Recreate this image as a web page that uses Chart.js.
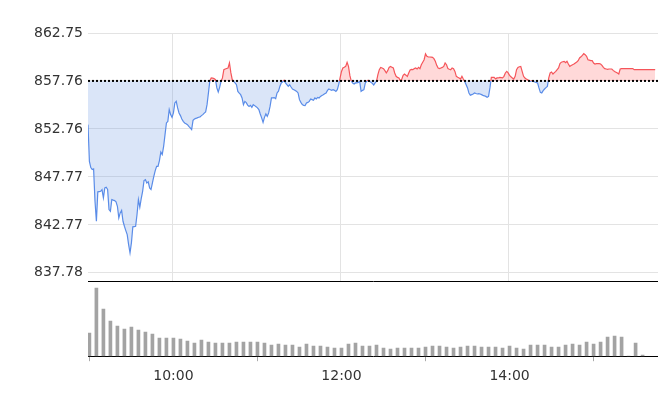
<!DOCTYPE html>
<html>
<head>
<meta charset="utf-8">
<script src="https://cdn.jsdelivr.net/npm/chart.js@4"></script>
<style>
  body { margin: 0; background: #fff; }
  #wrap { position: relative; width: 658px; height: 408px; }
  #top { position: absolute; left: 0; top: 0; width: 658px; height: 282px; }
  #bot { position: absolute; left: 0; top: 282px; width: 658px; height: 126px; }
</style>
</head>
<body>
<div id="wrap">
  <div id="top"><canvas id="grafPrecio"></canvas></div>
  <div id="bot"><canvas id="grafVolumen"></canvas></div>
</div>
<script>
// previous close, drawn as the dotted line
var cierreAnterior = 857.76;

// price axis ticks
var ticksPrecio = [837.78, 842.77, 847.77, 852.76, 857.76, 862.75];

// time axis: minutes from 9:00 and their labels
var ticksHora = [60, 180, 300];
var etiquetasHora = ['10:00', '12:00', '14:00'];

// one price per minute, starting at 9:00
var precios = [
  853.21, 849.39, 848.74, 848.53, 848.60, 845.23, 843.15, 846.21, 846.24, 846.27,
  846.45, 845.58, 846.62, 846.69, 846.45, 844.37, 844.19, 845.41, 845.35, 845.30,
  845.17, 844.71, 843.50, 844.02, 844.29, 843.15, 842.63, 842.18, 841.76, 840.72,
  839.86, 840.90, 842.57, 842.60, 842.63, 843.85, 845.41, 844.61, 845.51, 846.27,
  847.38, 847.49, 847.14, 847.25, 846.62, 846.45, 847.14, 847.83, 848.42, 848.87,
  848.87, 849.46, 850.35, 850.09, 850.95, 852.17, 853.39, 853.55, 854.77, 854.25,
  853.97, 854.43, 855.47, 855.63, 854.95, 854.43, 854.15, 853.80, 853.55, 853.39,
  853.31, 853.21, 853.03, 852.87, 852.69, 853.66, 853.80, 853.86, 853.91, 853.98,
  854.01, 854.15, 854.25, 854.41, 854.53, 855.29, 856.51, 857.79, 858.07, 858.05,
  858.00, 857.89, 857.03, 856.61, 857.09, 857.72, 858.07, 858.93, 859.00, 859.06,
  859.11, 859.63, 858.62, 857.89, 857.71, 857.55, 857.37, 856.67, 856.49, 856.33,
  855.99, 855.29, 855.63, 855.50, 855.24, 855.11, 855.22, 855.01, 855.29, 855.19,
  855.08, 854.95, 854.77, 854.32, 853.91, 853.45, 853.97, 854.32, 854.07, 854.43,
  855.11, 855.99, 855.99, 856.02, 855.91, 856.51, 856.70, 857.19, 857.55, 857.68,
  857.82, 857.55, 857.37, 857.19, 857.37, 857.13, 856.92, 856.85, 856.76, 856.67,
  856.51, 855.81, 855.53, 855.29, 855.22, 855.19, 855.47, 855.53, 855.63, 855.88,
  855.81, 855.74, 855.99, 855.88, 856.05, 855.99, 856.15, 856.25, 856.33, 856.43,
  856.51, 856.78, 856.92, 856.85, 856.78, 856.85, 856.78, 856.67, 856.85, 857.37,
  858.07, 858.75, 859.11, 859.19, 859.28, 859.69, 859.28, 858.31, 857.74, 857.53,
  857.44, 857.55, 857.55, 857.61, 857.72, 856.67, 856.78, 856.85, 857.55, 857.72,
  857.82, 857.72, 857.63, 857.50, 857.34, 857.55, 857.72, 858.41, 858.93, 859.17,
  859.11, 859.04, 858.83, 858.59, 858.83, 859.17, 859.27, 859.19, 859.11, 858.59,
  858.24, 858.13, 858.07, 857.79, 857.92, 858.34, 858.48, 858.36, 858.23, 858.59,
  858.90, 858.96, 858.93, 859.04, 859.11, 859.00, 859.17, 859.04, 859.45, 859.71,
  859.97, 860.57, 860.32, 860.25, 860.25, 860.23, 860.21, 860.08, 859.80, 859.38,
  859.11, 859.04, 859.11, 859.17, 859.27, 859.63, 859.45, 859.04, 858.98, 858.93,
  859.11, 859.04, 858.75, 858.24, 858.15, 858.07, 857.96, 858.24, 857.96, 857.71,
  857.37, 857.03, 856.51, 856.26, 856.33, 856.40, 856.51, 856.45, 856.40, 856.43,
  856.40, 856.33, 856.26, 856.21, 856.15, 856.05, 856.15, 857.03, 858.13, 858.13,
  858.13, 857.96, 858.07, 858.07, 858.13, 858.10, 858.07, 858.24, 858.59, 858.75,
  858.59, 858.34, 858.20, 858.07, 857.96, 858.24, 858.93, 859.17, 859.24, 859.27,
  858.75, 858.24, 858.07, 857.96, 857.87, 857.79, 857.71, 857.79, 857.71, 857.65,
  857.60, 857.55, 857.03, 856.57, 856.51, 856.75, 856.92, 857.06, 857.19, 858.07,
  858.59, 858.69, 858.48, 858.62, 858.75, 858.93, 859.11, 859.56, 859.71, 859.76,
  859.80, 859.66, 859.80, 859.52, 859.28, 859.37, 859.45, 859.52, 859.63, 859.73,
  859.87, 860.15, 860.28, 860.42, 860.60, 860.49, 860.32, 859.97, 859.92, 859.87,
  859.87, 859.63, 859.52, 859.56, 859.56, 859.56, 859.52, 859.38, 859.17, 859.04,
  859.00, 858.96, 859.00, 859.00, 859.00, 858.86, 858.75, 858.67, 858.59, 858.48,
  859.00, 859.04, 859.04, 859.04, 859.04, 859.04, 859.04, 859.04, 859.04, 859.04,
  858.93, 858.93, 858.93, 858.93, 858.93, 858.93, 858.93, 858.93, 858.93, 858.93,
  858.93, 858.93, 858.93, 858.93, 858.93, 858.93
];

// 5-minute volume bars, minutes from 9:00
var minutosVolumen = [
  0, 5, 10, 15, 20, 25, 30, 35, 40, 45, 50, 55,
  60, 65, 70, 75, 80, 85, 90, 95, 100, 105, 110, 115,
  120, 125, 130, 135, 140, 145, 150, 155, 160, 165, 170, 175,
  180, 185, 190, 195, 200, 205, 210, 215, 220, 225, 230, 235,
  240, 245, 250, 255, 260, 265, 270, 275, 280, 285, 290, 295,
  300, 305, 310, 315, 320, 325, 330, 335, 340, 345, 350, 355,
  360, 365, 370, 375, 380, 385, 390, 395
];
var volumenes = [
  23, 68, 47, 35, 30, 27, 29, 26, 24, 22,
  18, 18, 18, 17, 15, 13, 16, 14, 13, 13,
  13, 14, 14, 14, 14, 13, 11, 12, 11, 11,
  9, 12, 10, 10, 9, 8, 8, 12, 13, 10,
  10, 11, 8, 7, 8, 8, 8, 8, 9, 10,
  10, 9, 8, 9, 10, 10, 9, 9, 9, 8,
  10, 8, 7, 11, 11, 11, 9, 9, 11, 12,
  11, 14, 12, 14, 19, 20, 19, 0, 13, 1
];

Chart.defaults.font.family = "'DejaVu Sans', sans-serif";
Chart.defaults.font.size = 14;
Chart.defaults.color = '#333';
Chart.defaults.animation = false;

var rojo = 'rgb(245, 85, 90)';
var azul = 'rgb(90, 140, 232)';

function colorLinea(context) {
  var chart = context.chart;
  var area = chart.chartArea;
  if (!area) return azul;
  var yBase = chart.scales.y.getPixelForValue(cierreAnterior);
  var corte = (yBase - area.top) / (area.bottom - area.top);
  corte = Math.min(Math.max(corte, 0), 1);
  var g = chart.ctx.createLinearGradient(0, area.top, 0, area.bottom);
  g.addColorStop(0, rojo);
  g.addColorStop(corte, rojo);
  g.addColorStop(corte, azul);
  g.addColorStop(1, azul);
  return g;
}

/*-------------------------PRECIO-------------------------*/
var graficaPrecio = new Chart(document.getElementById('grafPrecio'), {
  type: 'line',
  data: {
    datasets: [{
      data: [{ x: 0, y: cierreAnterior }, { x: 407, y: cierreAnterior }],
      borderColor: '#000',
      borderWidth: 2,
      borderDash: [2, 2],
      pointRadius: 0,
      fill: false
    },
    {
      data: precios.map(function (p, i) { return { x: i, y: p }; }),
      borderColor: colorLinea,
      borderWidth: 1.2,
      pointRadius: 0,
      tension: 0,
      fill: {
        target: { value: cierreAnterior },
        above: 'rgba(255, 120, 120, 0.28)',
        below: 'rgba(120, 160, 230, 0.27)'
      }
    }]
  },
  options: {
    responsive: true,
    maintainAspectRatio: false,
    layout: { padding: { top: 33, left: 0, right: 0, bottom: 1 } },
    plugins: { legend: { display: false }, tooltip: { enabled: false } },
    scales: {
      x: {
        type: 'linear',
        min: 0,
        max: 407,
        afterBuildTicks: function (scale) {
          scale.ticks = ticksHora.map(function (v) { return { value: v }; });
        },
        afterFit: function (scale) {
          scale.height = 0;
          scale.paddingLeft = 0;
          scale.paddingRight = 0;
        },
        ticks: { display: false, padding: 0 },
        grid: { color: '#e3e3e3', drawTicks: false },
        border: { display: true, color: '#000', width: 1 }
      },
      y: {
        min: 836.93,
        max: 862.75,
        afterBuildTicks: function (scale) {
          scale.ticks = ticksPrecio.map(function (v) { return { value: v }; });
        },
        afterFit: function (scale) {
          scale.width = 88;
          scale.paddingBottom = 0;
        },
        ticks: {
          padding: 5,
          callback: function (v) { return Number(v).toFixed(2); }
        },
        grid: { color: '#e3e3e3', drawTicks: false },
        border: { display: false }
      }
    }
  }
});

/*-------------------------VOLUMEN-------------------------*/
var graficaVolumen = new Chart(document.getElementById('grafVolumen'), {
  type: 'bar',
  data: {
    datasets: [{
      data: minutosVolumen.map(function (m, i) { return { x: m, y: volumenes[i] }; }),
      backgroundColor: '#a3a3a3',
      barThickness: 3
    }]
  },
  options: {
    responsive: true,
    maintainAspectRatio: false,
    layout: { padding: { top: 0, left: 88, right: 0, bottom: 16 } },
    plugins: { legend: { display: false }, tooltip: { enabled: false } },
    scales: {
      x: {
        type: 'linear',
        offset: false,
        min: -1,
        max: 406,
        afterBuildTicks: function (scale) {
          scale.ticks = ticksHora.map(function (v) { return { value: v }; });
        },
        ticks: {
          padding: 7,
          maxRotation: 0,
          callback: function (v) { return etiquetasHora[ticksHora.indexOf(v)]; }
        },
        grid: { drawOnChartArea: false, drawTicks: true, tickLength: 5, color: '#aaa' },
        border: { display: true, color: '#000', width: 1 }
      },
      y: {
        display: false,
        min: 0,
        max: 74
      }
    }
  }
});
</script>
</body>
</html>
